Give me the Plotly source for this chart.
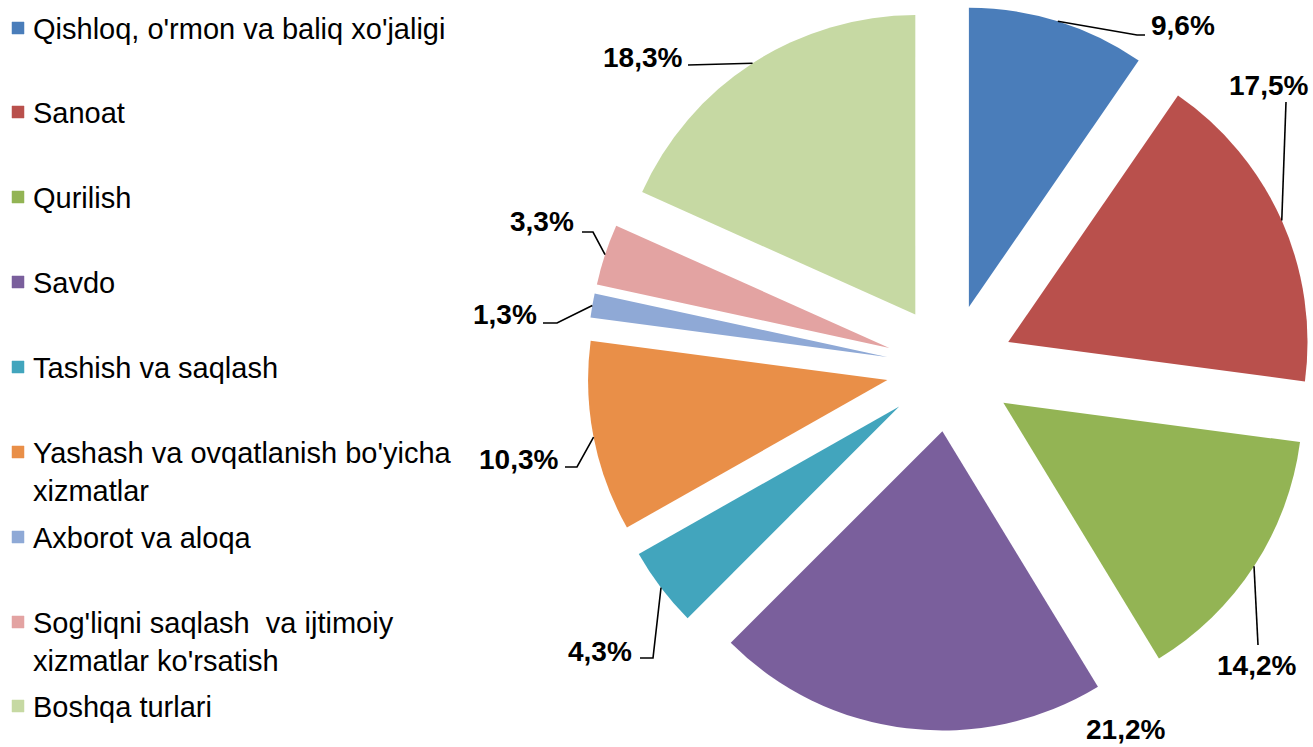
import math
import plotly.graph_objects as go

# ---------------- data ----------------
categories = [
    "Qishloq, o'rmon va baliq xo'jaligi",
    "Sanoat",
    "Qurilish",
    "Savdo",
    "Tashish va saqlash",
    "Yashash va ovqatlanish bo'yicha<br>xizmatlar",
    "Axborot va aloqa",
    "Sog'liqni saqlash  va ijtimoiy<br>xizmatlar ko'rsatish",
    "Boshqa turlari",
]
shares = [9.6, 17.5, 14.2, 21.2, 4.3, 10.3, 1.3, 3.3, 18.3]
value_labels = ["9,6%", "17,5%", "14,2%", "21,2%", "4,3%", "10,3%", "1,3%", "3,3%", "18,3%"]

# ---------------- style ----------------
colors = ["#4A7DBA", "#B9504C", "#93B454", "#7A5F9C", "#42A5BD",
          "#E98F48", "#8FA9D6", "#E3A3A2", "#C6D9A3"]
W, H = 1313, 747
PULL = 0.213
DOM_X = [0.447, 1.0]
DOM_Y = [0.02, 0.995]
FONT = "Liberation Sans, Arial, sans-serif"

# label placement (pixels) and leader-line elbows (pixels)
label_pos = [(1183, 26), (1268, 86), (1256, 665), (1125, 729), (600, 651),
             (518, 459), (505, 314), (542, 222), (642, 57)]
leader_via = [[(1137, 35), (1145, 35)], [(1286, 102)], [(1258, 645)], [],
              [(653, 658), (640, 658)], [(577, 467), (565, 467)],
              [(557, 323), (543, 323)], [(593, 232), (582, 232)], [(688, 65)]]

# legend layout (pixels)
LEG_X_BOX, LEG_X_TXT = 12, 31
leg_y = [28, 112, 197, 282, 367, 452, 537, 622, 706]

def px(x):
    return x / W

def py(y):
    return 1 - y / H

fig = go.Figure()
fig.add_trace(go.Pie(
    labels=categories,
    values=shares,
    sort=False,
    direction="clockwise",
    rotation=0,
    pull=[PULL] * len(shares),
    marker=dict(colors=colors, line=dict(width=0)),
    textinfo="none",
    hoverinfo="label+value",
    showlegend=False,
    domain=dict(x=DOM_X, y=DOM_Y),
))

# pie geometry (same as plotly's layout of the pie)
bw = W * (DOM_X[1] - DOM_X[0])
bh = H * (DOM_Y[1] - DOM_Y[0])
R = min(bw, bh) / (2 + 2 * PULL)
CX = W * (DOM_X[0] + DOM_X[1]) / 2
CY = H * (2 - DOM_Y[0] - DOM_Y[1]) / 2

total = sum(shares)
cum = 0.0
shapes = []
annotations = []
for i, v in enumerate(shares):
    mid = (cum + v / 2) / total * 2 * math.pi
    cum += v
    sx, sy = math.sin(mid), -math.cos(mid)
    pcx, pcy = CX + PULL * R * sx, CY + PULL * R * sy
    ex, ey = pcx + R * sx, pcy + R * sy
    pts = [(ex, ey)] + leader_via[i]
    if len(pts) > 1:
        path = "M {} {}".format(px(pts[0][0]), py(pts[0][1]))
        for (a, b) in pts[1:]:
            path += " L {} {}".format(px(a), py(b))
        shapes.append(dict(type="path", path=path, xref="paper", yref="paper",
                           line=dict(color="black", width=1.6)))
    lx, ly = label_pos[i]
    annotations.append(dict(
        x=px(lx), y=py(ly), xref="paper", yref="paper",
        text="<b>" + value_labels[i] + "</b>", showarrow=False,
        xanchor="center", yanchor="middle",
        font=dict(family=FONT, size=28, color="black")))

# manual legend
for i, name in enumerate(categories):
    y = leg_y[i]
    shapes.append(dict(type="rect", xref="paper", yref="paper",
                       x0=px(LEG_X_BOX), x1=px(LEG_X_BOX + 12),
                       y0=py(y + 6), y1=py(y - 6),
                       fillcolor=colors[i], line=dict(color=colors[i], width=0.5)))
    annotations.append(dict(
        x=px(LEG_X_TXT), y=py(y - 17), xref="paper", yref="paper",
        text=name, showarrow=False, xanchor="left", yanchor="top", align="left",
        font=dict(family=FONT, size=29, color="black")))

fig.update_layout(
    width=W, height=H,
    margin=dict(l=0, r=0, t=0, b=0),
    paper_bgcolor="white", plot_bgcolor="white",
    showlegend=False,
    shapes=shapes,
    annotations=annotations,
    font=dict(family=FONT),
)

fig.write_html("out.html",
               config={"displayModeBar": False},
               post_script="document.body.style.margin='0';document.body.style.overflow='hidden';")
